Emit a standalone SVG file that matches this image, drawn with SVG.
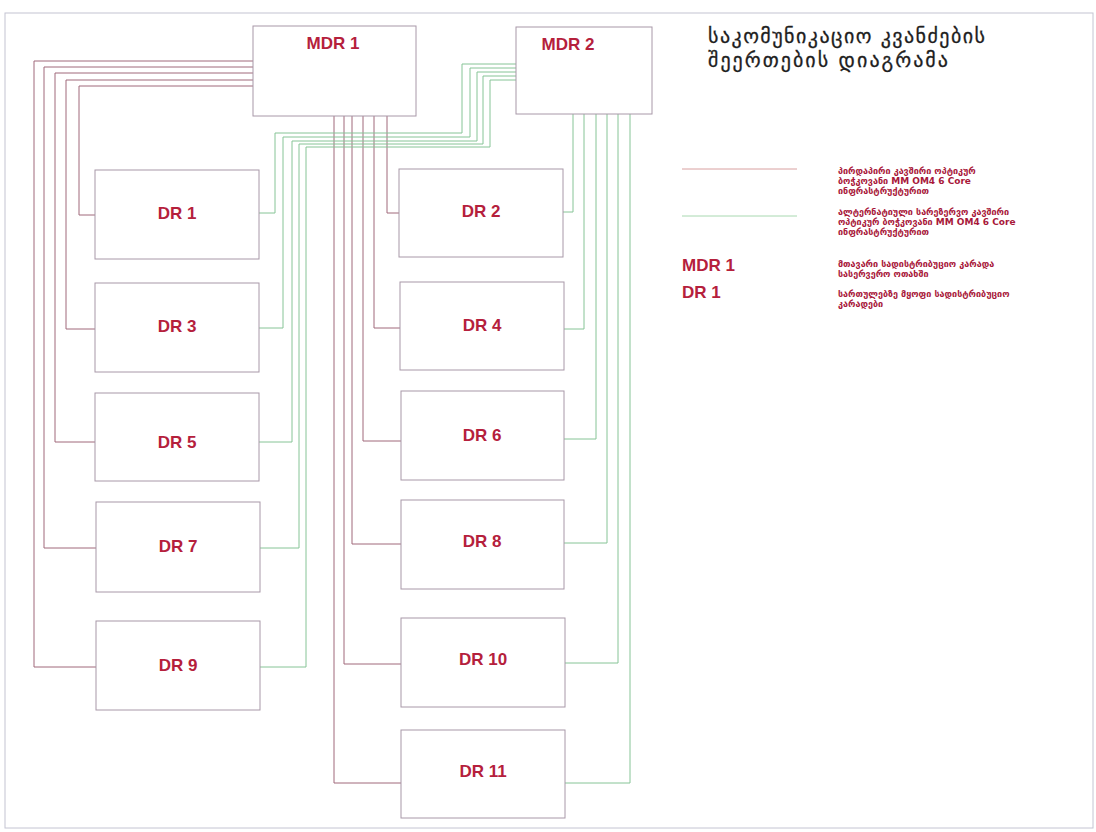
<svg xmlns="http://www.w3.org/2000/svg" width="1096" height="832" viewBox="0 0 1096 832">
<style>
.box{fill:#ffffff;stroke:#a898a8;stroke-width:1}
.lbl{font-family:"Liberation Sans",Arial,sans-serif;font-weight:bold;font-size:17px;fill:#b5203c;text-anchor:middle}
.red{fill:none;stroke:#a0687a;stroke-width:1}
.grn{fill:none;stroke:#86c496;stroke-width:1}
.leg{font-family:"DejaVu Sans","Noto Sans",sans-serif;font-size:9px;font-weight:bold;fill:#a8183a}
.title{font-family:"DejaVu Sans","Noto Sans",sans-serif;font-size:20px;fill:#1e1e1e;stroke:#1e1e1e;stroke-width:0.3}
.legl{font-family:"Liberation Sans",Arial,sans-serif;font-weight:bold;font-size:17px;fill:#b5203c}
</style>
<rect x="0" y="0" width="1096" height="832" fill="#ffffff"/>
<rect x="5" y="13" width="1088" height="815" fill="none" stroke="#c4c4d2" stroke-width="1"/>
<g id="connectors">
<path class="red" d="M253,86 H79 V215 H95"/>
<path class="red" d="M253,80 H66 V329 H95"/>
<path class="red" d="M253,73 H55 V442 H95"/>
<path class="red" d="M253,67 H44 V548 H96"/>
<path class="red" d="M253,61 H34 V667 H96"/>
<path class="red" d="M387,116 V213 H399"/>
<path class="red" d="M374,116 V328 H400"/>
<path class="red" d="M363,116 V441 H401"/>
<path class="red" d="M352,116 V544 H401"/>
<path class="red" d="M344,116 V664 H401"/>
<path class="red" d="M334,116 V783 H401"/>
<path class="grn" d="M516,64 H462 V133 H275 V213 H259"/>
<path class="grn" d="M516,68 H470 V137 H283 V328 H259"/>
<path class="grn" d="M516,72 H477 V141 H292 V442 H259"/>
<path class="grn" d="M516,76 H483 V144 H299 V548 H260"/>
<path class="grn" d="M516,80 H490 V147 H306 V667 H260"/>
<path class="grn" d="M573,114 V212 H563"/>
<path class="grn" d="M584,114 V329 H564"/>
<path class="grn" d="M596,114 V439 H564"/>
<path class="grn" d="M607,114 V543 H564"/>
<path class="grn" d="M618,114 V663 H565"/>
<path class="grn" d="M630,114 V783 H565"/>
</g>
<g id="mdr1"><rect class="box" x="253" y="26" width="163" height="90"/><text class="lbl" x="333" y="49">MDR 1</text></g>
<g id="mdr2"><rect class="box" x="516" y="27" width="136" height="87"/><text class="lbl" x="568" y="50">MDR 2</text></g>
<g id="dr1"><rect class="box" x="95" y="170" width="164" height="89"/><text class="lbl" x="177" y="219">DR 1</text></g>
<g id="dr3"><rect class="box" x="95" y="283" width="164" height="89"/><text class="lbl" x="177" y="332">DR 3</text></g>
<g id="dr5"><rect class="box" x="95" y="393" width="164" height="88"/><text class="lbl" x="177" y="448">DR 5</text></g>
<g id="dr7"><rect class="box" x="96" y="502" width="164" height="90"/><text class="lbl" x="178" y="552">DR 7</text></g>
<g id="dr9"><rect class="box" x="96" y="621" width="164" height="89"/><text class="lbl" x="178" y="671">DR 9</text></g>
<g id="dr2"><rect class="box" x="399" y="169" width="164" height="88"/><text class="lbl" x="481" y="217">DR 2</text></g>
<g id="dr4"><rect class="box" x="400" y="282" width="164" height="88"/><text class="lbl" x="482" y="331">DR 4</text></g>
<g id="dr6"><rect class="box" x="401" y="391" width="163" height="89"/><text class="lbl" x="482" y="441">DR 6</text></g>
<g id="dr8"><rect class="box" x="401" y="500" width="163" height="89"/><text class="lbl" x="482" y="547">DR 8</text></g>
<g id="dr10"><rect class="box" x="401" y="618" width="164" height="89"/><text class="lbl" x="483" y="665">DR 10</text></g>
<g id="dr11"><rect class="box" x="401" y="730" width="164" height="88"/><text class="lbl" x="483" y="777">DR 11</text></g>
<g id="title">
<text class="title" x="708" y="43" textLength="277" lengthAdjust="spacing">საკომუნიკაციო კვანძების</text>
<text class="title" x="708" y="67" textLength="240" lengthAdjust="spacing">შეერთების დიაგრამა</text>
</g>
<g id="legend">
<line x1="682" y1="169" x2="797" y2="169" stroke="#d8a0a0" stroke-width="1"/>
<line x1="682" y1="216" x2="797" y2="216" stroke="#a8d8b0" stroke-width="1"/>
<text class="leg" x="838" y="174">პირდაპირი კავშირი ოპტიკურ</text>
<text class="leg" x="838" y="184">ბოჭკოვანი MM OM4 6 Core</text>
<text class="leg" x="838" y="194">ინფრასტრუქტურით</text>
<text class="leg" x="838" y="215">ალტერნატიული სარეზერვო კავშირი</text>
<text class="leg" x="838" y="225">ოპტიკურ ბოჭკოვანი MM OM4 6 Core</text>
<text class="leg" x="838" y="235">ინფრასტრუქტურით</text>
<text class="legl" x="682" y="271">MDR 1</text>
<text class="leg" x="838" y="267">მთავარი სადისტრიბუციო კარადა</text>
<text class="leg" x="838" y="277">სასერვერო ოთახში</text>
<text class="legl" x="682" y="298">DR 1</text>
<text class="leg" x="838" y="297">სართულებზე მყოფი სადისტრიბუციო</text>
<text class="leg" x="838" y="307">კარადები</text>
</g>
</svg>
